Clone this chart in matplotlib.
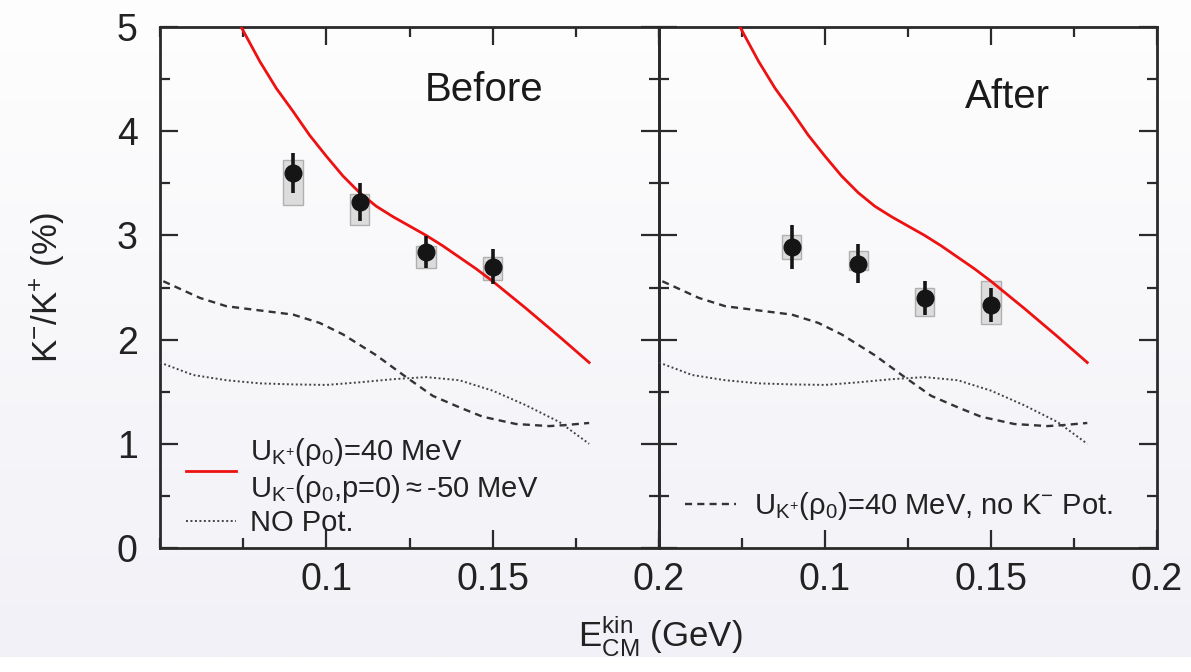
import numpy as np
import matplotlib
matplotlib.use("Agg")
import matplotlib.pyplot as plt
from matplotlib.patches import Rectangle
from matplotlib.lines import Line2D
from matplotlib.ticker import FixedLocator, FuncFormatter

plt.rcParams['font.family'] = ['Liberation Sans', 'DejaVu Sans']
plt.rcParams['mathtext.fontset'] = 'custom'
plt.rcParams['mathtext.rm'] = 'Liberation Sans'
plt.rcParams['mathtext.it'] = 'Liberation Sans:italic'
plt.rcParams['mathtext.bf'] = 'Liberation Sans:bold'

# model curves (same in both panels)
red_x = [0.0744, 0.08, 0.085, 0.09, 0.095, 0.10, 0.105, 0.11, 0.115, 0.12, 0.125, 0.13, 0.135,
         0.14, 0.145, 0.15, 0.16, 0.17, 0.179]
red_y = [5.0, 4.67, 4.41, 4.19, 3.96, 3.76, 3.57, 3.41, 3.28, 3.18, 3.09, 3.00, 2.90,
         2.79, 2.68, 2.56, 2.30, 2.03, 1.78]

dash_x = [0.051, 0.062, 0.070, 0.080, 0.090, 0.098, 0.105, 0.115, 0.124, 0.132, 0.140, 0.147,
          0.157, 0.167, 0.172, 0.179]
dash_y = [2.56, 2.40, 2.32, 2.28, 2.24, 2.16, 2.05, 1.85, 1.64, 1.46, 1.35, 1.26,
          1.19, 1.17, 1.18, 1.20]

dot_x = [0.05, 0.06, 0.07, 0.08, 0.09, 0.10, 0.11, 0.12, 0.13, 0.14, 0.15, 0.16, 0.17, 0.179]
dot_y = [1.78, 1.66, 1.61, 1.58, 1.57, 1.565, 1.59, 1.62, 1.64, 1.61, 1.51, 1.37, 1.21, 1.00]

# data points
pts_x = [0.09, 0.11, 0.13, 0.15]
before_y = [3.60, 3.32, 2.84, 2.70]
before_err = [0.19, 0.18, 0.155, 0.17]
before_sys_lo = [3.29, 3.10, 2.69, 2.57]
before_sys_hi = [3.72, 3.40, 2.90, 2.79]

after_y = [2.89, 2.73, 2.40, 2.33]
after_err = [0.21, 0.185, 0.16, 0.165]
after_sys_lo = [2.77, 2.67, 2.23, 2.15]
after_sys_hi = [3.00, 2.85, 2.50, 2.56]

box_w = 0.0058

fig = plt.figure(figsize=(11.91, 6.72), dpi=100)
fig.patch.set_facecolor('white')

# soft background gradient
bg = fig.add_axes([0, 0.022, 1, 0.978], zorder=-10)
grad = np.linspace(0, 1, 256).reshape(-1, 1)
bg.imshow(grad, aspect='auto', cmap=matplotlib.colors.LinearSegmentedColormap.from_list(
    'bg', ['#fefefe', '#f1f1f7']), extent=[0, 1, 0, 1], origin='upper')
bg.axis('off')

ax1 = fig.add_axes([160/1191, 1 - 548/672, 499/1191, 521/672])
ax2 = fig.add_axes([659/1191, 1 - 548/672, 498/1191, 521/672], sharey=ax1)

ink = '#2a2a2a'
red = '#ee1111'
dash_ls = (0, (3, 2.2))
dot_ls = (0, (1, 1.3))


def setup(ax):
    ax.set_facecolor('none')
    ax.set_xlim(0.05, 0.2)
    ax.set_ylim(0, 5)
    ax.xaxis.set_major_locator(FixedLocator([0.1, 0.15, 0.2]))
    ax.xaxis.set_minor_locator(FixedLocator([0.05, 0.075, 0.125, 0.175]))
    ax.yaxis.set_major_locator(FixedLocator([0, 1, 2, 3, 4, 5]))
    ax.yaxis.set_minor_locator(FixedLocator([0.5, 1.5, 2.5, 3.5, 4.5]))
    ax.xaxis.set_major_formatter(FuncFormatter(lambda v, p: '%g' % round(v, 3)))
    ax.tick_params(which='both', direction='in', top=True, right=True,
                   colors=ink, width=1.6, labelsize=27, labelcolor='#222222')
    ax.tick_params(which='major', length=13)
    ax.tick_params(which='minor', length=7)
    ax.tick_params(axis='x', which='major', pad=10)
    ax.tick_params(axis='y', which='major', pad=16)
    for s in ax.spines.values():
        s.set_color(ink)
        s.set_linewidth(2)


def draw(ax, y, err, lo, hi):
    for x, l, h in zip(pts_x, lo, hi):
        ax.add_patch(Rectangle((x - box_w / 2, l), box_w, h - l, facecolor='#dcdcdc',
                               edgecolor='#b0b0b0', lw=1, zorder=2))
    ax.errorbar(pts_x, y, yerr=err, fmt='o', color='#151515', ms=12, elinewidth=2.6,
                capsize=0, zorder=4)
    ax.plot(red_x, red_y, color=red, lw=2, zorder=3)
    ax.plot(dash_x, dash_y, color='#333333', lw=1.7, ls=dash_ls, zorder=3)
    ax.plot(dot_x, dot_y, color='#444444', lw=1.4, ls=dot_ls, zorder=3)


setup(ax1)
setup(ax2)
draw(ax1, before_y, before_err, before_sys_lo, before_sys_hi)
draw(ax2, after_y, after_err, after_sys_lo, after_sys_hi)
plt.setp(ax2.get_yticklabels(), visible=False)

# legends
h_red = Line2D([], [], color=red, lw=2)
h_dot = Line2D([], [], color='#444444', lw=1.4, ls=dot_ls)
h_dash = Line2D([], [], color='#333333', lw=1.7, ls=dash_ls)
lab_red = ('U$_{\\mathrm{K}^{+}}$(ρ$_0$)=40 MeV' + '\n' +
           'U$_{\\mathrm{K}^{-}}$(ρ$_0$,p=0)$\\approx$-50 MeV')
leg1 = ax1.legend([h_red, h_dot], [lab_red, 'NO Pot.'], loc='lower left',
                  bbox_to_anchor=(0.0, -0.03), frameon=False, fontsize=21,
                  handlelength=1.7, handletextpad=0.5, labelspacing=0.15)
for t in leg1.get_texts():
    t.set_color('#222222')
leg2 = ax2.legend([h_dash], ['U$_{\\mathrm{K}^{+}}$(ρ$_0$)=40 MeV, no K$^{-}$ Pot.'],
                  loc='lower left', bbox_to_anchor=(0.0, 0.0), frameon=False, fontsize=21,
                  handlelength=1.75, handletextpad=0.6)
for t in leg2.get_texts():
    t.set_color('#222222')

ax1.text(0.65, 0.88, 'Before', transform=ax1.transAxes, fontsize=29, ha='center',
         va='center', color='#1a1a1a')
ax2.text(0.70, 0.865, 'After', transform=ax2.transAxes, fontsize=29, ha='center',
         va='center', color='#1a1a1a')

ax1.set_ylabel(r'K$^{-}$/K$^{+}$ (%)', fontsize=25, color='#222222', labelpad=36)
fig.text(660/1191, 1 - 635/672, r'E$^{\mathrm{kin}}_{\mathrm{CM}}$ (GeV)', fontsize=25,
         ha='center', va='center', color='#222222')

fig.savefig('out.png', dpi=100, facecolor=fig.get_facecolor())
